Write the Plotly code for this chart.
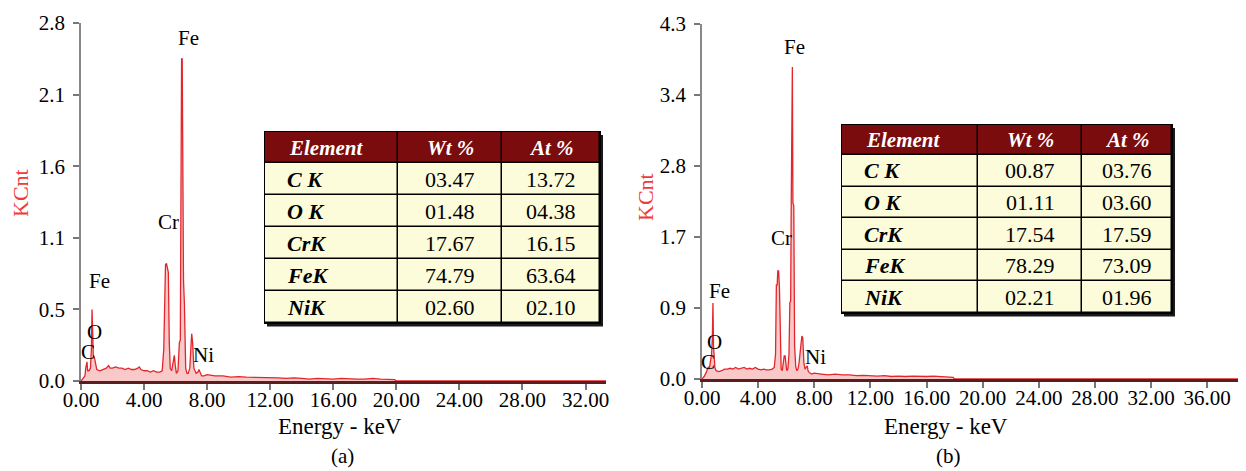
import plotly.graph_objects as go
from itertools import accumulate

# ---------------- data: spectrum (a) ----------------
energy_a = [0.00, 0.15, 0.25, 0.30, 0.34, 0.38, 0.42, 0.50, 0.60, 0.66, 0.70, 0.74, 0.78, 0.84, 0.92,
            1.00, 1.20, 1.40, 1.60, 1.75, 1.85, 2.00, 2.20, 2.40, 2.60, 2.80, 3.00, 3.20, 3.40, 3.60,
            3.70, 3.80, 4.00, 4.20, 4.40, 4.60, 4.80, 5.00, 5.15, 5.25, 5.32, 5.36, 5.42, 5.48, 5.54,
            5.60, 5.66, 5.75, 5.85, 5.92, 5.98, 6.05, 6.15, 6.24, 6.30, 6.34, 6.38, 6.42, 6.46, 6.50,
            6.56, 6.64, 6.72, 6.80, 6.90, 6.96, 7.02, 7.08, 7.16, 7.30, 7.42, 7.48, 7.55, 7.65, 7.80,
            8.00, 8.50, 9.00, 9.50, 10.0, 10.5, 11.0, 11.5, 12.0, 12.5, 13.0, 13.5, 14.0, 14.5, 15.0,
            15.5, 16.0, 16.5, 17.0, 17.5, 18.0, 18.5, 19.0, 19.5, 19.9, 20.0, 33.3]
kcnt_a = [0.00, 0.02, 0.04, 0.10, 0.15, 0.15, 0.08, 0.08, 0.10, 0.25, 0.56, 0.40, 0.20, 0.19, 0.12,
          0.09, 0.08, 0.09, 0.10, 0.12, 0.10, 0.10, 0.11, 0.10, 0.10, 0.09, 0.10, 0.09, 0.09, 0.10,
          0.11, 0.09, 0.08, 0.08, 0.07, 0.08, 0.07, 0.07, 0.08, 0.25, 0.60, 0.91, 0.92, 0.88, 0.85,
          0.30, 0.10, 0.08, 0.14, 0.20, 0.12, 0.06, 0.08, 0.30, 0.32, 1.74, 2.52, 2.52, 0.80, 0.79,
          0.60, 0.10, 0.06, 0.06, 0.10, 0.20, 0.37, 0.30, 0.10, 0.06, 0.07, 0.09, 0.07, 0.04, 0.04,
          0.05, 0.04, 0.04, 0.03, 0.035, 0.03, 0.03, 0.025, 0.03, 0.025, 0.02, 0.025, 0.02, 0.015, 0.02,
          0.015, 0.015, 0.02, 0.015, 0.015, 0.015, 0.02, 0.015, 0.015, 0.01, 0.00, 0.00]

# ---------------- data: spectrum (b) ----------------
energy_b = [0.00, 0.15, 0.30, 0.40, 0.46, 0.52, 0.60, 0.68, 0.74, 0.78, 0.82, 0.86, 0.92, 1.00, 1.20,
            1.40, 1.60, 1.80, 2.00, 2.20, 2.40, 2.60, 2.80, 3.00, 3.20, 3.40, 3.60, 3.80, 4.00, 4.20,
            4.40, 4.60, 4.80, 5.00, 5.15, 5.24, 5.30, 5.36, 5.40, 5.46, 5.52, 5.58, 5.64, 5.72, 5.80,
            5.86, 5.92, 5.98, 6.04, 6.12, 6.20, 6.26, 6.32, 6.36, 6.40, 6.44, 6.48, 6.54, 6.60, 6.68,
            6.76, 6.84, 6.92, 7.00, 7.06, 7.12, 7.18, 7.26, 7.34, 7.42, 7.50, 7.56, 7.64, 7.80, 8.00,
            8.50, 9.00, 9.50, 10.0, 10.5, 11.0, 11.5, 12.0, 12.5, 13.0, 13.5, 14.0, 14.5, 15.0, 15.5,
            16.0, 16.5, 17.0, 17.5, 17.9, 18.0, 38.2]
kcnt_b = [0.00, 0.03, 0.08, 0.14, 0.15, 0.12, 0.25, 0.30, 0.50, 0.92, 0.40, 0.20, 0.14, 0.10, 0.09,
          0.10, 0.12, 0.12, 0.13, 0.12, 0.14, 0.12, 0.13, 0.14, 0.12, 0.13, 0.12, 0.14, 0.12, 0.11,
          0.12, 0.11, 0.11, 0.12, 0.14, 0.30, 1.14, 1.14, 1.31, 1.31, 1.10, 0.35, 0.12, 0.10, 0.18,
          0.28, 0.28, 0.15, 0.10, 0.12, 0.30, 0.92, 0.95, 2.13, 3.78, 3.78, 2.13, 2.10, 0.40, 0.15,
          0.10, 0.12, 0.20, 0.40, 0.43, 0.52, 0.50, 0.20, 0.12, 0.14, 0.16, 0.10, 0.08, 0.06, 0.07,
          0.06, 0.05, 0.06, 0.05, 0.05, 0.04, 0.045, 0.04, 0.035, 0.04, 0.03, 0.035, 0.03, 0.035, 0.03,
          0.03, 0.035, 0.03, 0.03, 0.02, 0.00, 0.00]

# ---------------- peak labels ----------------
peak_names = ["C", "O", "Fe", "Cr", "Fe", "Ni"]
peak_x_a = [0.42, 0.88, 1.15, 5.55, 6.80, 7.80]
peak_y_a = [0.23, 0.38, 0.78, 1.24, 2.68, 0.20]
peak_x_b = [0.43, 0.90, 1.26, 5.70, 6.57, 8.07]
peak_y_b = [0.20, 0.45, 1.07, 1.71, 4.02, 0.27]

# ---------------- axis ticks ----------------
xticks_a = [0, 4, 8, 12, 16, 20, 24, 28, 32]
xticks_b = [0, 4, 8, 12, 16, 20, 24, 28, 32, 36]
ymax_a, ymax_b = 2.8, 4.3
yticktext_a = ["0.0", "0.5", "1.1", "1.6", "2.1", "2.8"]
yticktext_b = ["0.0", "0.9", "1.7", "2.8", "3.4", "4.3"]

# ---------------- tables ----------------
table_header = ["Element", "Wt %", "At %"]
elements = ["C K", "O K", "CrK", "FeK", "NiK"]
wt_a = ["03.47", "01.48", "17.67", "74.79", "02.60"]
at_a = ["13.72", "04.38", "16.15", "63.64", "02.10"]
wt_b = ["00.87", "01.11", "17.54", "78.29", "02.21"]
at_b = ["03.76", "03.60", "17.59", "73.09", "01.96"]

# ---------------- geometry (page pixels of the reference) ----------------
OFF = 8                      # browser body margin
W, H = 1246 - OFF, 471 - OFF
SERIF = "Liberation Serif, Times New Roman, serif"
RED = "#E3262B"


def px_x(p):
    return (p - OFF) / W


def px_y(p):
    return 1 - (p - OFF) / H


fig = go.Figure()

for xs, ys, xa, ya in [(energy_a, kcnt_a, "x", "y"), (energy_b, kcnt_b, "x2", "y2")]:
    fig.add_trace(go.Scatter(
        x=xs, y=ys, mode="lines", xaxis=xa, yaxis=ya, showlegend=False,
        line=dict(color=RED, width=1.3), fill="tozeroy",
        fillcolor="rgba(240,120,120,0.40)", hoverinfo="skip"))

axis_common = dict(showgrid=False, zeroline=False, ticks="outside", ticklen=6,
                   tickcolor="#777777", tickwidth=1.5, showline=True,
                   tickfont=dict(family=SERIF, size=21, color="black"), automargin=False)

layout = dict(
    width=W, height=H, margin=dict(l=0, r=0, t=0, b=0),
    paper_bgcolor="white", plot_bgcolor="rgba(0,0,0,0)", showlegend=False,
    xaxis=dict(domain=[px_x(81), px_x(606)], range=[0, 33.3], anchor="y",
               tickvals=xticks_a, ticktext=[f"{v:.2f}" for v in xticks_a],
               linecolor="#5a1e1e", linewidth=2.5, ticklabelstandoff=-8, **axis_common),
    yaxis=dict(domain=[px_y(381), px_y(23)], range=[0, ymax_a], anchor="x",
               tickvals=[ymax_a * i / 5 for i in range(6)], ticktext=yticktext_a,
               linecolor="#888888", linewidth=1.5, ticklabelstandoff=4, **axis_common),
    xaxis2=dict(domain=[px_x(702), px_x(1238)], range=[0, 38.2], anchor="y2",
                tickvals=xticks_b, ticktext=[f"{v:.2f}" for v in xticks_b],
                linecolor="#5a1e1e", linewidth=2.5, ticklabelstandoff=-8, **axis_common),
    yaxis2=dict(domain=[px_y(379), px_y(24)], range=[0, ymax_b], anchor="x2",
                tickvals=[ymax_b * i / 5 for i in range(6)], ticktext=yticktext_b,
                linecolor="#888888", linewidth=1.5, ticklabelstandoff=4, **axis_common),
)

annotations = []
shapes = []

# ---------------- tables drawn as heatmaps on their own axes ----------------
tables = [
    dict(idx=3, left=265, top=132, col_w=[133, 104, 98], head_h=31, row_h=32, wt=wt_a, at=at_a),
    dict(idx=4, left=842, top=125, col_w=[136, 104, 90], head_h=30, row_h=31.6, wt=wt_b, at=at_b),
]
for t in tables:
    xa, ya = f"x{t['idx']}", f"y{t['idx']}"
    x_edges = [0] + list(accumulate(t["col_w"]))
    y_edges = [0] + list(accumulate([t["head_h"]] + [t["row_h"]] * len(elements)))
    tw, th = x_edges[-1], y_edges[-1]
    pad0, pad1 = 2, 5
    layout[f"xaxis{t['idx']}"] = dict(domain=[px_x(t["left"] - pad0), px_x(t["left"] + tw + pad1)],
                                      range=[-pad0, tw + pad1], visible=False, anchor=ya)
    layout[f"yaxis{t['idx']}"] = dict(domain=[px_y(t["top"] + th + pad1), px_y(t["top"] - pad0)],
                                      range=[th + pad1, -pad0], visible=False, anchor=xa)
    z = [[1, 1, 1]] + [[0, 0, 0] for _ in elements]
    fig.add_trace(go.Heatmap(
        x=x_edges, y=y_edges, z=z, xaxis=xa, yaxis=ya, zmin=0, zmax=1,
        colorscale=[[0, "#FCFCDA"], [1, "#7A0C0E"]], showscale=False,
        xgap=1.5, ygap=1.5, hoverinfo="skip"))
    # shadow and outer border
    shapes.append(dict(type="rect", xref=xa, yref=ya, layer="below",
                       x0=2, y0=3, x1=tw + 3, y1=th + 3.5,
                       fillcolor="#1a1a1a", line=dict(width=0)))
    shapes.append(dict(type="rect", xref=xa, yref=ya, layer="below",
                       x0=-1, y0=-1, x1=tw + 1, y1=th + 1,
                       fillcolor="black", line=dict(width=0)))
    # header text
    hy = t["head_h"] / 2
    annotations.append(dict(text=f"<b><i>{table_header[0]}</i></b>", x=22, y=hy, xref=xa, yref=ya,
                            xanchor="left", yanchor="middle", showarrow=False,
                            font=dict(family=SERIF, size=21, color="white")))
    for c in (1, 2):
        annotations.append(dict(text=f"<b><i>{table_header[c]}</i></b>",
                                x=(x_edges[c] + x_edges[c + 1]) / 2, y=hy, xref=xa, yref=ya,
                                xanchor="center", yanchor="middle", showarrow=False,
                                font=dict(family=SERIF, size=21, color="white")))
    # body text
    for r, (el, w, a) in enumerate(zip(elements, t["wt"], t["at"])):
        cy = (y_edges[r + 1] + y_edges[r + 2]) / 2
        annotations.append(dict(text=f"<b><i>{el}</i></b>", x=20, y=cy, xref=xa, yref=ya,
                                xanchor="left", yanchor="middle", showarrow=False,
                                font=dict(family=SERIF, size=22, color="black")))
        for c, v in ((1, w), (2, a)):
            annotations.append(dict(text=v, x=(x_edges[c] + x_edges[c + 1]) / 2, y=cy,
                                    xref=xa, yref=ya, xanchor="center", yanchor="middle",
                                    showarrow=False,
                                    font=dict(family=SERIF, size=22, color="black")))

# ---------------- peak labels ----------------
for xs, ys, xr, yr in [(peak_x_a, peak_y_a, "x", "y"), (peak_x_b, peak_y_b, "x2", "y2")]:
    for n, x, y in zip(peak_names, xs, ys):
        annotations.append(dict(text=n, x=x, y=y, xref=xr, yref=yr, showarrow=False,
                                xanchor="center", yanchor="middle",
                                font=dict(family=SERIF, size=21, color="black")))

# ---------------- axis titles and captions ----------------
for cx, cy, txt in [(20, 193, "KCnt"), (645, 197, "KCnt")]:
    annotations.append(dict(text=txt, x=px_x(cx), y=px_y(cy), xref="paper", yref="paper",
                            showarrow=False, textangle=-90, xanchor="center", yanchor="middle",
                            font=dict(family=SERIF, size=22, color="#F03A3A")))
for cx, cy, txt, sz in [(340, 426, "Energy - keV", 23), (946, 426, "Energy - keV", 23),
                        (342, 456, "(a)", 21), (948, 456, "(b)", 21)]:
    annotations.append(dict(text=txt, x=px_x(cx), y=px_y(cy), xref="paper", yref="paper",
                            showarrow=False, xanchor="center", yanchor="middle",
                            font=dict(family=SERIF, size=sz, color="black")))

layout["annotations"] = annotations
layout["shapes"] = shapes
fig.update_layout(**layout)

fig.write_html("out.html")
